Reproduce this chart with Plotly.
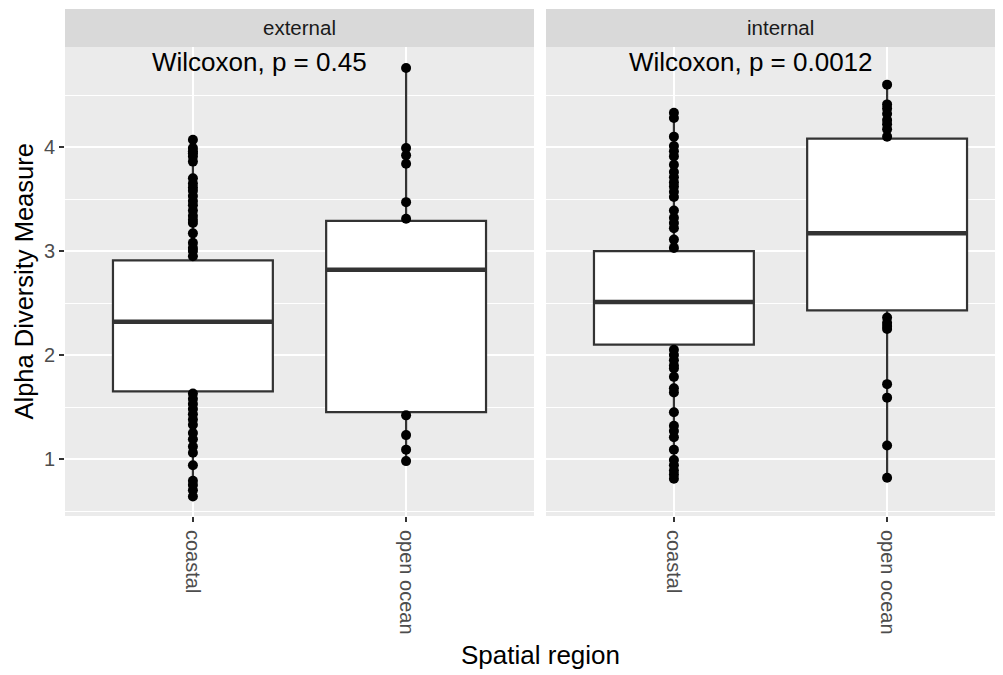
import plotly.graph_objects as go

# ---------------- data ----------------
facets = ["external", "internal"]
categories = ["coastal", "open ocean"]
p_labels = ["Wilcoxon, p = 0.45", "Wilcoxon, p = 0.0012"]

# box statistics per facet: [coastal, open ocean]
ext_q1 = [1.65, 1.45]
ext_median = [2.32, 2.82]
ext_q3 = [2.91, 3.29]
ext_low = [0.64, 0.98]
ext_high = [4.07, 4.76]

int_q1 = [2.10, 2.43]
int_median = [2.51, 3.17]
int_q3 = [3.00, 4.08]
int_low = [0.81, 0.82]
int_high = [4.33, 4.60]

# observed (visible) points
ext_coastal = [4.07, 3.99, 3.96, 3.94, 3.91, 3.86, 3.70, 3.65, 3.61, 3.58, 3.53,
               3.48, 3.44, 3.39, 3.34, 3.30, 3.27, 3.17, 3.08, 3.03, 3.00, 2.95,
               1.63, 1.58, 1.53, 1.48, 1.43, 1.38, 1.33, 1.25, 1.19, 1.12, 1.06,
               0.94, 0.79, 0.75, 0.70, 0.64]
ext_open = [4.76, 3.99, 3.92, 3.84, 3.47, 3.31, 1.42, 1.23, 1.09, 0.98]
int_coastal = [4.33, 4.28, 4.10, 4.01, 3.96, 3.91, 3.83, 3.76, 3.71, 3.66, 3.62,
               3.57, 3.52, 3.39, 3.32, 3.27, 3.22, 3.11, 3.03,
               2.05, 2.00, 1.95, 1.90, 1.87, 1.79, 1.68, 1.64, 1.45, 1.32, 1.27,
               1.21, 1.09, 0.99, 0.94, 0.89, 0.85, 0.81]
int_open = [4.60, 4.41, 4.37, 4.32, 4.26, 4.22, 4.17, 4.10,
            2.36, 2.31, 2.28, 2.25, 1.72, 1.59, 1.13, 0.82]

# ---------------- figure ----------------
FONT = "Liberation Sans, Arial, sans-serif"
BOXW = 0.75
fig = go.Figure()

stats = [
    (ext_q1, ext_median, ext_q3, ext_low, ext_high, [ext_coastal, ext_open]),
    (int_q1, int_median, int_q3, int_low, int_high, [int_coastal, int_open]),
]
xpos = [1, 2]

for fi, (q1, med, q3, lo, hi, pts) in enumerate(stats):
    xa = "x" if fi == 0 else "x2"
    ya = "y" if fi == 0 else "y2"
    # points (drawn under the box)
    for ci, vals in enumerate(pts):
        fig.add_trace(go.Scatter(
            x=[xpos[ci]] * len(vals), y=vals, mode="markers",
            marker=dict(color="black", size=10, line=dict(width=0)),
            xaxis=xa, yaxis=ya, showlegend=False, hoverinfo="y"))
    # boxes
    fig.add_trace(go.Box(
        x=xpos, q1=q1, median=med, q3=q3, lowerfence=lo, upperfence=hi,
        width=BOXW, fillcolor="white", whiskerwidth=0,
        line=dict(color="#333333", width=2.2), boxpoints=False,
        xaxis=xa, yaxis=ya, showlegend=False))
    # thicker median line (ggplot fatten)
    for ci in range(2):
        fig.add_trace(go.Scatter(
            x=[xpos[ci] - BOXW / 2, xpos[ci] + BOXW / 2], y=[med[ci], med[ci]],
            mode="lines", line=dict(color="#333333", width=4.5),
            xaxis=xa, yaxis=ya, showlegend=False, hoverinfo="skip"))

# page has an 8px body margin: figure coordinates = page coordinates - 8
OFF = 8
W, H = 995, 667
ML, MR, MT = 65 - OFF, 0, 9 - OFF
panel_bottom = 516 - OFF
MB = H - panel_bottom
area_h = H - MT - MB
area_w = W - ML - MR
panel_top = 1 - (47 - OFF - MT) / area_h
dom1 = [0, (534 - OFF - ML) / area_w]
dom2 = [(546 - OFF - ML) / area_w, 1.0]

yrange = [0.452, 4.962]
common_y = dict(
    range=yrange, tickvals=[1, 2, 3, 4], showgrid=True, gridcolor="white",
    gridwidth=1.5, zeroline=False, ticks="outside", ticklen=5,
    tickwidth=1.5, tickcolor="#333333",
    tickfont=dict(family=FONT, size=20, color="#4D4D4D"),
    minor=dict(tick0=0.5, dtick=1, showgrid=True, gridcolor="white",
               gridwidth=0.7, ticks=""),
    domain=[0, panel_top], showline=False, fixedrange=True)
common_x = dict(
    tickvals=xpos, ticktext=categories, tickangle=90, showgrid=True,
    gridcolor="white", gridwidth=1.5, zeroline=False, ticks="outside",
    ticklen=5, tickwidth=1.5, tickcolor="#333333", ticklabelstandoff=4,
    tickfont=dict(family=FONT, size=20, color="#4D4D4D"),
    showline=False, fixedrange=True)

fig.update_layout(
    width=W, height=H, margin=dict(l=ML, r=MR, t=MT, b=MB, autoexpand=False),
    paper_bgcolor="white", plot_bgcolor="#EBEBEB",
    font=dict(family=FONT),
    xaxis=dict(common_x, domain=dom1, range=[0.4, 2.6], anchor="y"),
    xaxis2=dict(common_x, domain=dom2, range=[0.4, 2.6 - 12 / 213], anchor="y2"),
    yaxis=dict(common_y, anchor="x"),
    yaxis2=dict(common_y, anchor="x2", showticklabels=False, ticks=""),
    showlegend=False,
)

# strips
for dom in [dom1, dom2]:
    fig.add_shape(type="rect", xref="paper", yref="paper",
                  x0=dom[0], x1=dom[1], y0=panel_top, y1=1,
                  fillcolor="#D9D9D9", line=dict(width=0), layer="below")

strip_font = dict(family=FONT, size=20.5, color="#1A1A1A")
fig.add_annotation(text=facets[0], xref="x", yref="paper", x=1.5,
                   y=(panel_top + 1) / 2, showarrow=False, font=strip_font,
                   xanchor="center", yanchor="middle")
fig.add_annotation(text=facets[1], xref="x2", yref="paper", x=1.5,
                   y=(panel_top + 1) / 2, showarrow=False, font=strip_font,
                   xanchor="center", yanchor="middle")

# p-value labels
pfont = dict(family=FONT, size=26, color="black")
fig.add_annotation(text=p_labels[0], xref="x", yref="y", x=0.80, y=4.82,
                   showarrow=False, xanchor="left", yanchor="middle", font=pfont)
fig.add_annotation(text=p_labels[1], xref="x2", yref="y2", x=0.78, y=4.82,
                   showarrow=False, xanchor="left", yanchor="middle", font=pfont)

# axis titles
tfont = dict(family=FONT, size=26, color="black")
fig.add_annotation(text="Alpha Diversity Measure", xref="paper", yref="paper",
                   x=-(ML - (23 - OFF)) / area_w, y=panel_top / 2, textangle=-90,
                   showarrow=False, xanchor="center", yanchor="middle",
                   borderpad=0, font=dict(family=FONT, size=25.5, color="black"))
fig.add_annotation(text="Spatial region", xref="paper", yref="paper",
                   x=(540 - OFF - ML) / area_w,
                   y=-(655 - OFF - panel_bottom) / area_h,
                   showarrow=False, xanchor="center", yanchor="middle", font=tfont)

fig.write_html("out.html")
